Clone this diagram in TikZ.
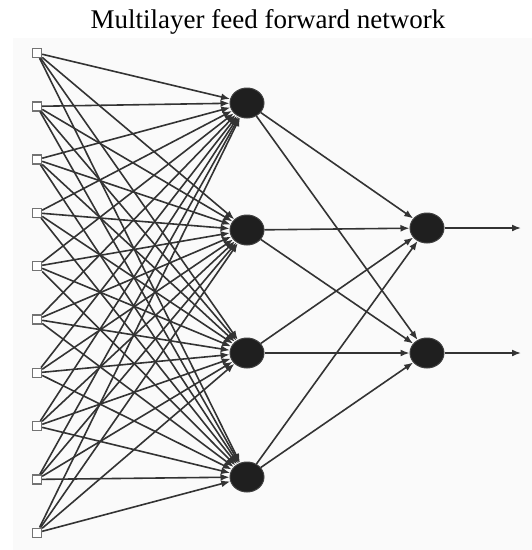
\documentclass[tikz,border=0pt]{standalone}
\usepackage{fontspec}
\setmainfont{Liberation Serif}
\usetikzlibrary{shapes.geometric,arrows.meta}
\begin{document}
\begin{tikzpicture}[x=1pt,y=-1pt,
  inputbox/.style={rectangle,draw=black!55,fill=white,line width=1.4pt,minimum size=9pt,inner sep=0pt},
  neuron/.style={ellipse,fill=black!88,draw=black!75,line width=1pt,minimum width=34pt,minimum height=30pt,inner sep=0pt},
  conn/.style={draw=black!80,line width=1.6pt,-{Latex[length=9pt,width=7pt]}}]
\useasboundingbox (0,0) rectangle (532,550);
\fill[black!2] (13,38) rectangle (532,550);
\node[font=\fontsize{27}{30}\selectfont,anchor=base] (title) at (268,28) {Multilayer feed forward network};
\foreach \i in {0,...,9} {
  \node[inputbox] (in\i) at (37,{53+53.3*\i}) {};
}
\node[neuron] (h0) at (247,103) {};
\node[neuron] (h1) at (247,230) {};
\node[neuron] (h2) at (247,353) {};
\node[neuron] (h3) at (247,477) {};
\node[neuron] (o0) at (427,228) {};
\node[neuron] (o1) at (427,353) {};
\coordinate (e0) at (521,228);
\coordinate (e1) at (521,353);
\foreach \i in {0,...,9} {
  \foreach \j in {0,...,3} {
    \draw[conn] (in\i) -- (h\j);
  }
}
\foreach \j in {0,...,3} {
  \foreach \k in {0,1} {
    \draw[conn] (h\j) -- (o\k);
  }
}
\draw[conn] (o0) -- (e0);
\draw[conn] (o1) -- (e1);
\end{tikzpicture}
\end{document}
